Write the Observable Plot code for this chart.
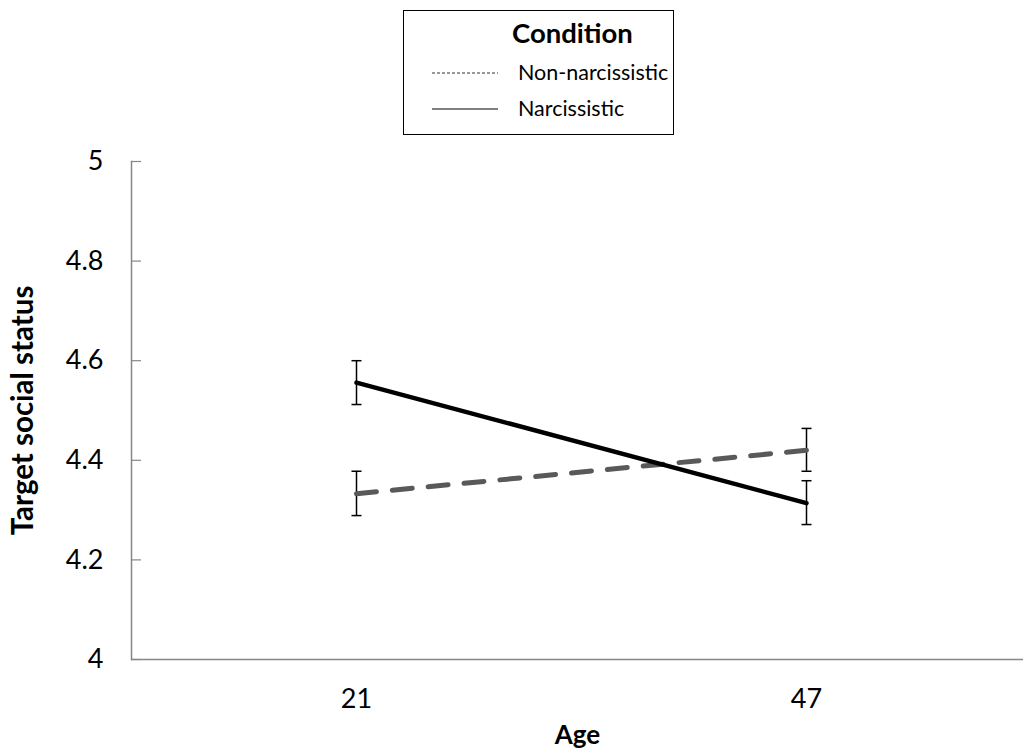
<!DOCTYPE html>
<html>
<head>
<meta charset="utf-8">
<script src="https://cdn.jsdelivr.net/npm/d3@7"></script>
<script src="https://cdn.jsdelivr.net/npm/@observablehq/plot@0.6"></script>
<style>
  body { margin: 0; background: #fff; font-family: Lato, "Open Sans", sans-serif; }
  #wrap { position: relative; width: 1023px; height: 755px; }
  #legend { position: absolute; left: 403px; top: 10px; width: 269px; height: 123px; border: 1px solid #000; background: #fff; }
  #legend .title { position: absolute; left: 108px; top: 8px; font-weight: bold; font-size: 27.5px; color: #000; line-height: 1; }
  #legend .row { position: absolute; left: 28px; height: 26px; display: flex; align-items: center; }
  #legend .row span { margin-left: 20px; font-size: 21.5px; color: #000; line-height: 1; }
  #chart { position: absolute; left: 0; top: 140px; }
  #chart svg { font-family: Lato, "Open Sans", sans-serif; }
  g[aria-label="y-axis label"] text, g[aria-label="x-axis label"] text { font-weight: bold; }
</style>
</head>
<body>
<div id="wrap">
  <div id="legend"></div>
  <div id="chart"></div>
</div>
<script>
const ages = ["21", "47"];
const conditions = ["Non-narcissistic", "Narcissistic"];
const nonNarcMean = [4.333, 4.420];
const nonNarcLow  = [4.289, 4.378];
const nonNarcHigh = [4.378, 4.464];
const narcMean = [4.556, 4.314];
const narcLow  = [4.512, 4.271];
const narcHigh = [4.600, 4.359];
const yTicks = [4, 4.2, 4.4, 4.6, 4.8, 5];

const data = [];
ages.forEach((a, i) => {
  data.push({age: a, condition: conditions[0], mean: nonNarcMean[i], lo: nonNarcLow[i], hi: nonNarcHigh[i]});
  data.push({age: a, condition: conditions[1], mean: narcMean[i], lo: narcLow[i], hi: narcHigh[i]});
});
const nonNarc = data.filter(d => d.condition === conditions[0]);
const narc = data.filter(d => d.condition === conditions[1]);

// legend
const legend = document.getElementById("legend");
legend.innerHTML = `<div class="title">Condition</div>`;
const rowTops = [49, 85];
const swatches = [
  `<svg width="66" height="4"><line x1="0" y1="2" x2="66" y2="2" stroke="#333" stroke-width="1" stroke-dasharray="3,2"/></svg>`,
  `<svg width="66" height="4"><line x1="0" y1="2" x2="66" y2="2" stroke="#000" stroke-width="1.2"/></svg>`
];
conditions.forEach((c, i) => {
  const row = document.createElement("div");
  row.className = "row";
  row.style.top = rowTops[i] + "px";
  row.innerHTML = swatches[i] + `<span>${c}</span>`;
  legend.appendChild(row);
});

// horizontal cap symbol for error bars
const capSymbol = {
  draw(context, size) {
    const w = 5;
    context.moveTo(-w, 0);
    context.lineTo(w, 0);
  }
};

const axisGray = "#868686";
const chart = Plot.plot({
  width: 1023,
  height: 615,
  marginTop: 21,
  marginBottom: 96,
  marginLeft: 131,
  marginRight: 0,
  style: {fontSize: "27px", fontFamily: "Lato, 'Open Sans', sans-serif", color: "#000", background: "#fff"},
  x: {type: "point", domain: ages, range: [356, 806], padding: 0},
  y: {domain: [4, 5]},
  marks: [
    Plot.ruleY([4], {stroke: axisGray, strokeWidth: 1.5}),
    Plot.frame({anchor: "left", stroke: axisGray, strokeWidth: 1.5}),
    Plot.tickY(yTicks, {y: d => d, stroke: axisGray, strokeWidth: 1.2, insetRight: 1023 - 131 - 10}),
    Plot.axisY({ticks: yTicks, tickSize: 0, tickPadding: 28, tickFormat: d => String(d), fontSize: 27, label: null}),
    Plot.axisY({ticks: [], label: "Target social status", labelAnchor: "center", labelArrow: "none", labelOffset: 119, fontSize: 29.5}),
    Plot.axisX({tickSize: 0, tickPadding: 29, fontSize: 27, label: null}),
    Plot.axisX({ticks: [], label: "Age", labelAnchor: "center", labelArrow: "none", labelOffset: 84, fontSize: 26}),
    Plot.ruleX(data, {x: "age", y1: "lo", y2: "hi", stroke: "#000", strokeWidth: 1.5}),
    Plot.dot(data, {x: "age", y: "lo", symbol: capSymbol, fill: "none", stroke: "#000", strokeWidth: 1.5}),
    Plot.dot(data, {x: "age", y: "hi", symbol: capSymbol, fill: "none", stroke: "#000", strokeWidth: 1.5}),
    Plot.line(nonNarc, {x: "age", y: "mean", stroke: "#595959", strokeWidth: 5, strokeDasharray: "20,16", strokeLinecap: "round"}),
    Plot.line(narc, {x: "age", y: "mean", stroke: "#000", strokeWidth: 4.5})
  ]
});
document.getElementById("chart").appendChild(chart);
</script>
</body>
</html>
